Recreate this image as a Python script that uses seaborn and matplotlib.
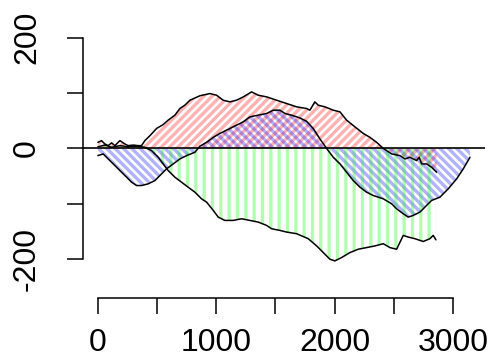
import matplotlib
matplotlib.use("Agg")
import matplotlib.pyplot as plt
import seaborn as sns
import pandas as pd

# values
red_x = [0, 31, 59, 87, 116, 144, 186, 228, 256, 299,
         341, 369, 397, 440, 496, 552, 594, 651, 693, 735,
         778, 820, 862, 947, 1003, 1059, 1116, 1172, 1229, 1299,
         1355, 1426, 1510, 1595, 1680, 1764, 1792, 1834, 1862, 1919,
         1989, 2046, 2102, 2172, 2243, 2299, 2356, 2412, 2483, 2553,
         2595, 2637, 2694, 2716, 2736, 2778, 2820, 2863]
red_y = [11, 14, 8, 5, 10, 5, 14, 8, 5, 6,
         5, 5, 14, 23, 36, 43, 51, 60, 72, 78,
         87, 91, 95, 99, 96, 87, 84, 87, 93, 102,
         96, 93, 87, 81, 75, 72, 69, 84, 78, 75,
         69, 66, 51, 39, 27, 20, 11, 0, -10, -13,
         -19, -16, -22, -16, -28, -28, -34, -43]

blue_x = [0, 45, 87, 144, 200, 243, 285, 327, 369, 425,
          482, 538, 580, 637, 693, 750, 820, 862, 919, 975,
          1031, 1088, 1144, 1229, 1285, 1355, 1426, 1482, 1538, 1581,
          1637, 1707, 1764, 1820, 1877, 1933, 1989, 2046, 2102, 2158,
          2215, 2271, 2327, 2412, 2483, 2525, 2581, 2623, 2665, 2722,
          2778, 2820, 2891, 2961, 3032, 3088, 3145]
blue_y = [-13, -10, -19, -31, -43, -52, -61, -67, -67, -64,
          -58, -46, -37, -28, -19, -13, -7, 4, 11, 20,
          27, 33, 39, 48, 57, 60, 63, 69, 69, 63,
          60, 55, 49, 36, 17, 0, -16, -28, -43, -58,
          -70, -79, -85, -91, -100, -109, -118, -124, -121, -115,
          -103, -94, -88, -73, -55, -37, -16]

green_x = [0, 59, 116, 186, 256, 327, 397, 454, 510, 552,
           594, 651, 707, 763, 820, 876, 919, 975, 1017, 1073,
           1144, 1214, 1285, 1355, 1426, 1468, 1538, 1595, 1680, 1778,
           1849, 1905, 1961, 2003, 2060, 2130, 2200, 2271, 2342, 2412,
           2468, 2525, 2581, 2623, 2680, 2750, 2806, 2834, 2857]
green_y = [3, 6, 2, 5, 3, 4, 2, -4, -16, -28,
           -40, -52, -61, -70, -79, -91, -97, -112, -124, -130,
           -130, -127, -130, -133, -139, -145, -148, -151, -154, -163,
           -176, -188, -200, -203, -197, -188, -182, -179, -176, -172,
           -179, -182, -157, -160, -163, -168, -163, -157, -165]

x_ticks = [0, 500, 1000, 1500, 2000, 2500, 3000]
x_labels = ["0", "", "1000", "", "2000", "", "3000"]
y_ticks = [-200, -100, 0, 100, 200]
y_labels = ["-200", "", "0", "", "200"]

series = [
    ("red", red_x, red_y, (1, 0, 0, 0.3), "////"),
    ("blue", blue_x, blue_y, (0, 0, 1, 0.3), "\\\\\\\\"),
    ("green", green_x, green_y, (0, 1, 0, 0.3), "||"),
]

sns.set_style("ticks")
plt.rcParams["font.family"] = ["Liberation Sans", "DejaVu Sans"]
plt.rcParams["hatch.linewidth"] = 2.4

fig = plt.figure(figsize=(4.96, 3.62), dpi=100)
ax = fig.add_axes([0.1673, 0.1768, 0.8115, 0.8265])

# hatched polygons between each curve and zero
for name, xs, ys, col, hatch in series:
    ax.fill_between(xs, ys, 0, facecolor="none", edgecolor=col,
                    linewidth=0, hatch=hatch)

for name, xs, ys, col, hatch in series:
    df = pd.DataFrame({"x": xs, "y": ys})
    sns.lineplot(data=df, x="x", y="y", sort=False, estimator=None,
                 color="black", linewidth=1.1, ax=ax)

ax.axhline(0, color="black", linewidth=1.2)

ax.set_xlim(-126, 3276)
ax.set_ylim(-270, 270)
ax.set_xlabel("")
ax.set_ylabel("")

ax.set_xticks(x_ticks)
ax.set_xticklabels(x_labels)
ax.set_yticks(y_ticks)
ax.set_yticklabels(y_labels, rotation=90, va="center")

for side in ["top", "right"]:
    ax.spines[side].set_visible(False)
ax.spines["left"].set_bounds(-200, 200)
ax.spines["bottom"].set_bounds(0, 3000)
for side in ["left", "bottom"]:
    ax.spines[side].set_linewidth(1.1)
    ax.spines[side].set_color("black")

ax.tick_params(axis="both", length=11.5, width=1.1, color="black",
               labelsize=23, labelcolor="black")
ax.tick_params(axis="x", pad=10)
ax.tick_params(axis="y", pad=18)

fig.savefig("out.png", dpi=100)
